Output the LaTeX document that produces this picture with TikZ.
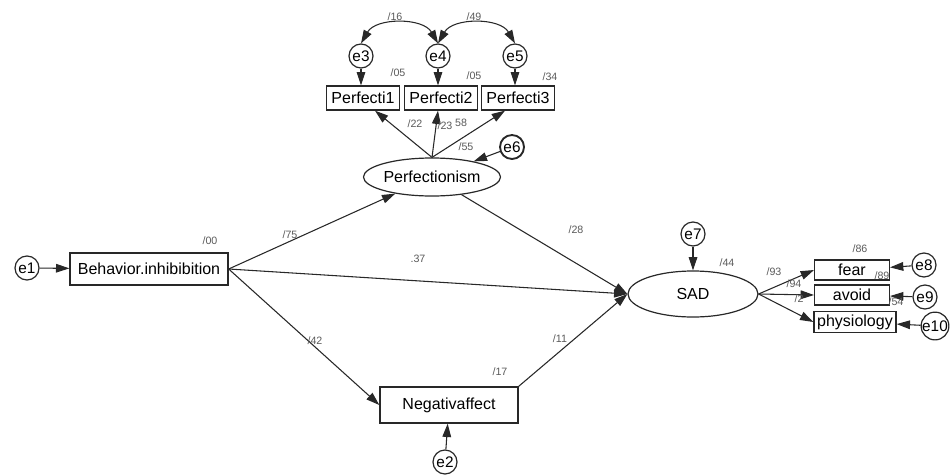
\documentclass[tikz,border=0pt]{standalone}
\usepackage{fontspec}
\setmainfont{Liberation Sans}
\usepackage{tikz}
\usetikzlibrary{shapes.geometric, arrows.meta, positioning, calc}
\definecolor{pathgray}{RGB}{40,40,40}
\definecolor{labelgray}{RGB}{90,90,90}

\begin{document}
\begin{tikzpicture}[
  x=0.75pt,y=-0.75pt,
  obs/.style={
    rectangle, draw=pathgray, line width=1pt, fill=white,
    inner sep=0pt, align=center, font=\fontsize{12}{14}\selectfont
  },
  latent/.style={
    ellipse, draw=pathgray, line width=0.9pt, fill=white,
    inner sep=0pt, minimum width=97.5pt, font=\fontsize{12}{14}\selectfont
  },
  errc/.style={
    circle, draw=pathgray, line width=0.9pt, fill=white,
    inner sep=0pt, minimum size=18pt, font=\fontsize{11.5}{12}\selectfont
  },
  path/.style={-{Triangle[length=10pt,width=6.5pt]}, line width=0.8pt, draw=pathgray},
  cov/.style={{Triangle[length=10pt,width=6.5pt]}-{Triangle[length=10pt,width=6.5pt]},
    line width=0.8pt, draw=pathgray},
  est/.style={font=\fontsize{8}{9}\selectfont, text=labelgray, inner sep=0pt}
]
\useasboundingbox (0,0) rectangle (950,475);

% ---- Observed and latent variables ----
\node[obs, minimum width=118.5pt, minimum height=24pt] (beh) at (149,269) {Behavior.inhibibition};
\node[obs, minimum width=103.5pt, minimum height=27pt] (neg) at (449,405) {Negativaffect};
\node[latent, minimum height=28.5pt] (perf) at (432,177) {Perfectionism};
\node[latent, minimum height=34.5pt] (sad) at (693,294) {SAD};

\node[obs, minimum width=55pt, minimum height=18pt] (p1) at (363,98) {Perfecti1};
\node[obs, minimum width=55pt, minimum height=18pt] (p2) at (441,98) {Perfecti2};
\node[obs, minimum width=55pt, minimum height=18pt] (p3) at (518,98) {Perfecti3};

\node[obs, minimum width=56pt, minimum height=15pt] (fear) at (852,270) {fear};
\node[obs, minimum width=56pt, minimum height=15pt] (avoid) at (852,295) {avoid};
\node[obs, minimum width=61.5pt, minimum height=16pt] (phys) at (855,322) {physiology};

% ---- Error terms ----
\node[errc] (e1) at (27,268) {e1};
\node[errc] (e2) at (445,462) {e2};
\node[errc] (e3) at (361,56) {e3};
\node[errc] (e4) at (438,56) {e4};
\node[errc] (e5) at (515,56) {e5};
\node[errc, line width=1.4pt] (e6) at (512,147) {e6};
\node[errc] (e7) at (693,234) {e7};
\node[errc] (e8) at (924,265) {e8};
\node[errc] (e9) at (925,297) {e9};
\node[errc] (e10) at (935,326) {e10};

% ---- Error paths ----
\draw[path] (e1) -- (beh);
\draw[path] (e2) -- (neg);
\foreach \e/\p in {e3/p1, e4/p2, e5/p3} {
  \draw[path] (\e) -- (\e |- \p.north);
}
\draw[path] (e6) -- (perf);
\draw[path] (e7) -- (sad);
\foreach \e/\p in {e8/fear, e9/avoid, e10/phys} {
  \draw[path] (\e) -- (\p);
}

% ---- Covariances ----
\draw[cov] (e3.north) to[bend left=60] (e4.north);
\draw[cov] (e4.north) to[bend left=60] (e5.north);

% ---- Structural paths ----
\draw[path] (beh.east) -- (perf);
\draw[path] (beh.east) -- (sad.west);
\draw[path] (beh.east) -- (neg.west);
\draw[path] (perf) -- (sad.west);
\draw[path] (neg.north east) -- (sad.west);

% ---- Measurement paths ----
\draw[path] (perf.north) -- ($(p1.south)+(12,0)$);
\draw[path] (perf.north) -- ($(p2.south)+(-3,0)$);
\draw[path] (perf.north) -- ($(p3.south)+(-13,0)$);
\foreach \p in {fear,avoid,phys} {
  \draw[path] (sad.east) -- (\p.west);
}

% ---- Estimates ----
\node[est] (l00) at (210,241) {/00};
\node[est] (l75) at (290,235) {/75};
\node[est] (l37) at (418,259) {.37};
\node[est] (l42) at (315,341) {/42};
\node[est] (l17) at (500,372) {/17};
\node[est] (l11) at (560,339) {/11};
\node[est] (l28) at (576,230) {/28};
\node[est] (l44) at (727,263) {/44};
\node[est] (l55) at (466,147) {/55};
\node[est] (l22) at (415,124) {/22};
\node[est] (l23) at (445,126) {/23};
\node[est] (l58) at (461,123) {58};
\node[est] (r1) at (398,73) {/05};
\node[est] (r2) at (474,76) {/05};
\node[est] (r3) at (550,77) {/34};
\node[est] (l16) at (395,17) {/16};
\node[est] (l49) at (474,17) {/49};
\node[est] (l93) at (774,272) {/93};
\node[est] (l94) at (794,284) {/94};
\node[est] (l2) at (799,299) {/2};
\node[est] (r86) at (860,249) {/86};
\node[est] (r89) at (882,276) {/89};
\node[est] (r54) at (896,302) {/54};

\end{tikzpicture}
\end{document}
